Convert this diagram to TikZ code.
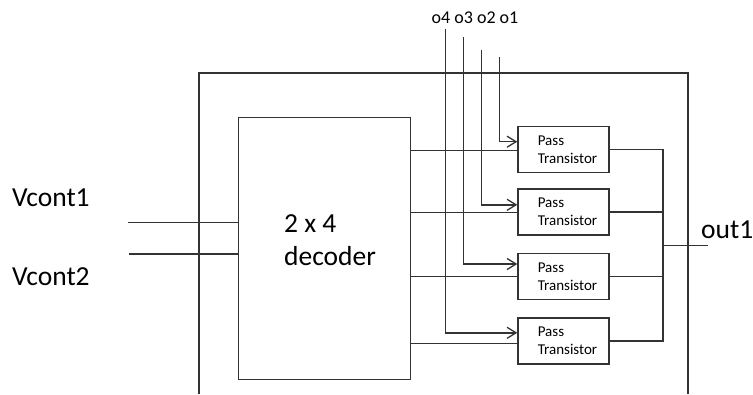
\documentclass[tikz,border=0pt]{standalone}
\usepackage{fontspec}
\setmainfont{Carlito}
\usetikzlibrary{arrows.meta}
\definecolor{ln}{HTML}{333333}
\begin{document}
\begin{tikzpicture}[x=1pt,y=-1pt,
  wire/.style={draw=ln, line width=1.4pt},
  arr/.style={wire, -{Straight Barb[length=9pt,width=11pt,line width=1.3pt]}},
  ptbox/.style={draw=ln, line width=1.4pt, minimum width=91pt, minimum height=46pt,
    inner sep=0pt, align=left, font=\fontsize{15}{18}\selectfont},
  bigtxt/.style={font=\fontsize{27.5}{32.5}\selectfont, inner sep=0pt},
  otxt/.style={font=\fontsize{18}{20}\selectfont, inner sep=0pt}]
\useasboundingbox (0,0) rectangle (753,394);
\newcommand{\ptlabel}{\hspace*{8pt}Pass\\\hspace*{8pt}Transistor}
% outer enclosure (open bottom)
\coordinate (encbl) at (199,394);
\coordinate (enctl) at (199,73);
\coordinate (enctr) at (688,73);
\coordinate (encbr) at (688,394);
\draw[wire] (encbl) -- (enctl) -- (enctr) -- (encbr);
% decoder
\node[draw=ln, line width=1.4pt, minimum width=172pt, minimum height=262pt, anchor=north west, inner sep=0pt] (dec) at (238,117) {};
\node[bigtxt, align=left, anchor=west] (dectxt) at (284,240) {2 x 4\\decoder};
% pass transistors
\node[ptbox] (pt1) at (563.5,149.7) {\ptlabel};
\node[ptbox] (pt2) at (563.5,211.8) {\ptlabel};
\node[ptbox] (pt3) at (563.5,276.5) {\ptlabel};
\node[ptbox] (pt4) at (563.5,340.8) {\ptlabel};
% inputs
\node[bigtxt, anchor=west] (v1) at (12,198) {Vcont1};
\node[bigtxt, anchor=west] (v2) at (12,277) {Vcont2};
\coordinate (in1) at (128,222.7);
\coordinate (in2) at (129,254);
\draw[wire] (in1) -- (dec.west |- in1);
\draw[wire] (in2) -- (dec.west |- in2);
% decoder outputs
\draw[wire] ([yshift=-1pt]pt1.west -| dec.east) -- ([yshift=-1pt]pt1.west);
\draw[wire] ([yshift=-0.5pt]pt2.west -| dec.east) -- ([yshift=-0.5pt]pt2.west);
\draw[wire] (pt3.west -| dec.east) -- (pt3.west);
\draw[wire] ([yshift=-2.5pt]pt4.west -| dec.east) -- ([yshift=-2.5pt]pt4.west);
% select lines
\node[otxt, anchor=west] (olab) at (431.5,18) {o4 o3 o2 o1};
\coordinate (o1) at (499.3,56.7);
\coordinate (o2) at (481.7,50);
\coordinate (o3) at (463.3,37);
\coordinate (o4) at (445.3,29.3);
\draw[arr] (o1) |- ([yshift=8pt]pt1.west);
\draw[arr] (o2) |- ([yshift=7pt]pt2.west);
\draw[arr] (o3) |- ([yshift=12.5pt]pt3.west);
\draw[arr] (o4) |- ([yshift=8pt]pt4.west);
% output bus
\coordinate (bus) at (663,245.7);
\draw[wire] (pt1.east) -| (bus);
\draw[wire] (pt2.east) -| (bus);
\draw[wire] (pt3.east) -| (bus);
\draw[wire] (pt4.east) -| (bus);
\coordinate (outend) at (708,245.7);
\draw[wire] (bus) -- (outend);
\node[bigtxt, anchor=west] (out) at (701,230) {out1};
\end{tikzpicture}
\end{document}
